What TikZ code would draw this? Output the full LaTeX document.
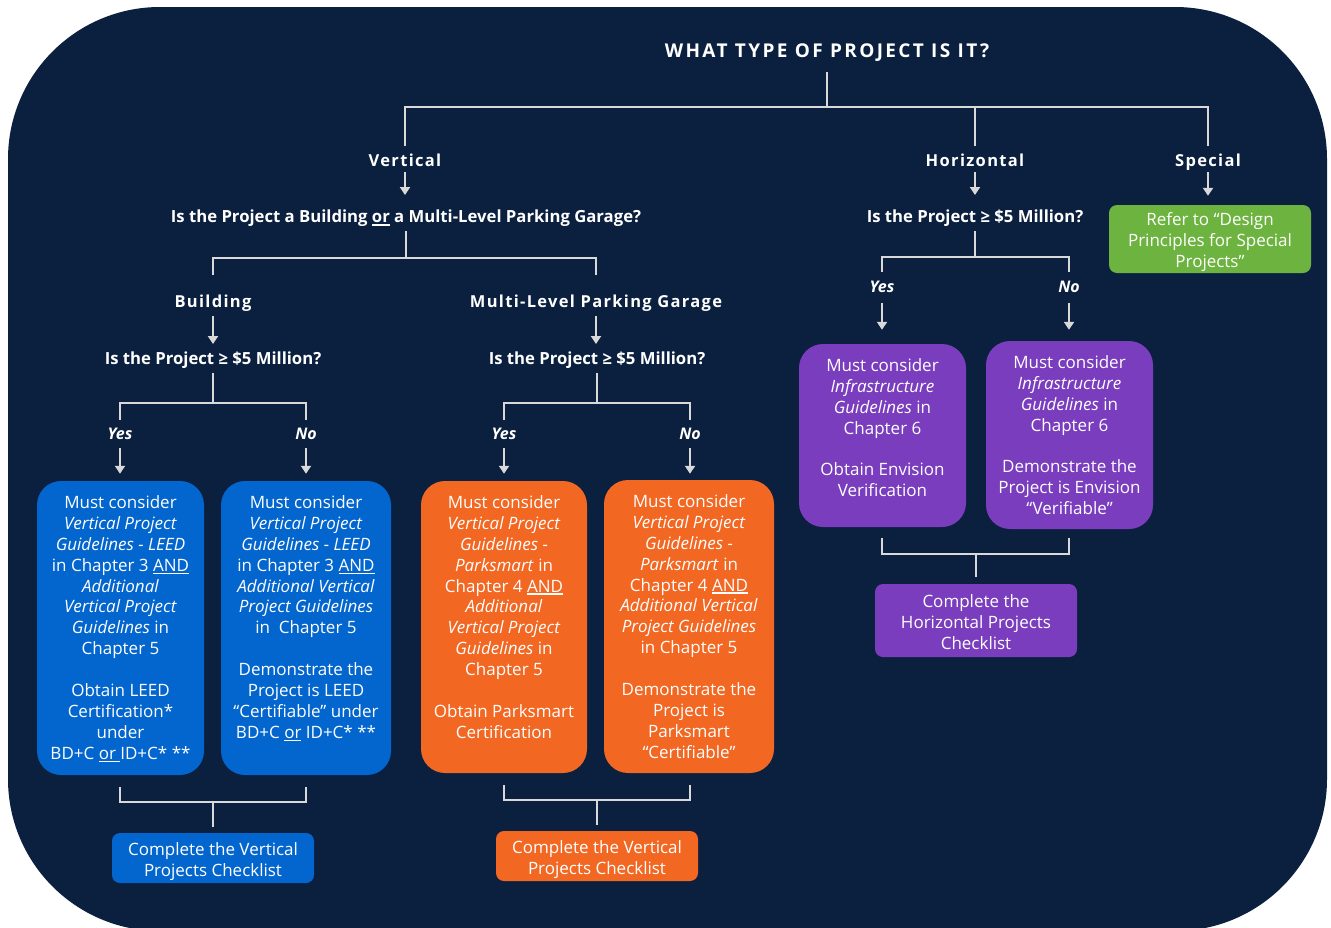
\documentclass[tikz,border=0pt]{standalone}
\usepackage{fontspec}
\setmainfont{Open Sans}
\newfontfamily\trackfont[LetterSpace=8]{Open Sans}
\newfontfamily\titletrack[LetterSpace=12.5]{Open Sans}
\usetikzlibrary{arrows.meta,calc}
\definecolor{navy}{HTML}{0B1F3E}
\definecolor{vblue}{HTML}{0366CE}
\definecolor{vorange}{HTML}{F26722}
\definecolor{vpurple}{HTML}{7A3DBE}
\definecolor{vgreen}{HTML}{6DB33F}
\definecolor{lgray}{HTML}{D9D9D9}
\newcommand\uline[1]{\setbox0\hbox{#1}\rlap{\rule[-2.6pt]{\wd0}{1.2pt}}\box0\relax}
\newcommand\boxtext[4]{\parbox[c][#1][t]{#2}{\centering\vspace*{#3}#4\par}}
\newcommand\cardtext[3]{\boxtext{#1}{#2}{14.5pt}{#3}}
\newcommand\gap{\\[20.9pt]}
\begin{document}
\begin{tikzpicture}[x=1pt,y=-1pt,
  conn/.style={draw=lgray,line width=2.8pt,line join=miter},
  arr/.style={draw=lgray,line width=2.8pt,-{Triangle[width=10pt,length=8pt]}},
  titlefont/.style={text=white,font=\titletrack\bfseries\fontsize{19}{22}\selectfont,inner sep=0pt,text height=15.5pt,text depth=0pt},
  hdr/.style={text=white,font=\trackfont\bfseries\fontsize{16.5}{20}\selectfont,inner sep=0pt,text height=14.5pt,text depth=0pt},
  qn/.style={text=white,font=\bfseries\fontsize{16.7}{20}\selectfont,inner sep=0pt,text height=13.9pt,text depth=0pt},
  yn/.style={text=white,font=\bfseries\itshape\fontsize{16}{18}\selectfont,inner sep=0pt,text height=12.6pt,text depth=0pt},
  card/.style={rounded corners=24pt,inner sep=0pt,text=white,font=\fontsize{17}{20.9}\selectfont},
  check/.style={rounded corners=8pt,inner sep=0pt,text=white,font=\fontsize{17}{21}\selectfont}]
\useasboundingbox (0,0) rectangle (1331,927);
\clip (0,0) rectangle (1331,927);
\fill[white] (0,0) rectangle (1331,927);
\fill[navy,rounded corners=152pt] (8,7) rectangle (1327,931);

% top level
\node[titlefont] (title) at (827,50) {WHAT TYPE OF PROJECT IS IT?};
\coordinate (j0) at (827,107);
\node[hdr] (vert) at (405,159) {Vertical};
\node[hdr] (horz) at (975,159) {Horizontal};
\node[hdr] (spec) at (1208,159) {Special};
\draw[conn] ($(title)+(0,22)$) -- (j0);
\draw[conn] ($(vert)+(0,-13)$) |- (j0) -| ($(spec)+(0,-13)$);
\draw[conn] ($(horz)+(0,-13)$) -- (horz |- j0);

% second level
\node[qn] (q1) at (406,216) {Is the Project a Building \uline{or} a Multi-Level Parking Garage?};
\node[qn] (qh) at (975,216) {Is the Project ≥ \$5 Million?};
\node[check,fill=vgreen] (spc) at (1210,239) {\boxtext{68pt}{202pt}{7.5pt}{Refer to “Design\\Principles for Special\\Projects”}};
\draw[arr] ($(vert)+(0,13)$) -- ($(vert |- q1)+(0,-21)$);
\draw[arr] ($(horz)+(0,13)$) -- ($(horz |- qh)+(0,-21)$);
\draw[arr] ($(spec)+(0,13)$) -- ($(spec |- spc.north)+(0,-9)$);

% vertical branch
\coordinate (b1) at (406,258);
\node[hdr] (bld) at (213,300) {Building};
\node[hdr] (mlp) at (596,300) {Multi-Level Parking Garage};
\draw[conn] ($(q1)+(0,15)$) -- (b1);
\draw[conn] ($(bld)+(0,-25)$) |- (b1) -| ($(mlp)+(0,-25)$);
\node[qn] (qb) at (213,358) {Is the Project ≥ \$5 Million?};
\node[qn] (qp) at (597,358) {Is the Project ≥ \$5 Million?};
\draw[arr] ($(bld)+(0,16)$) -- ($(bld |- qb)+(0,-14)$);
\draw[arr] ($(mlp)+(0,16)$) -- ($(mlp |- qp)+(0,-14)$);

\coordinate (bb) at (213,403);
\coordinate (bp) at (597,403);
\node[yn] (by) at (120,433) {Yes};
\node[yn] (bn) at (306,433) {No};
\node[yn] (py) at (504,433) {Yes};
\node[yn] (pn) at (690,433) {No};
\draw[conn] ($(qb)+(0,15)$) -- (bb);
\draw[conn] ($(by)+(0,-13)$) |- (bb) -| ($(bn)+(0,-13)$);
\draw[conn] ($(qp)+(0,15)$) -- (bp);
\draw[conn] ($(py)+(0,-13)$) |- (bp) -| ($(pn)+(0,-13)$);

\node[card,fill=vblue] (bl1) at (120.5,628) {\cardtext{294pt}{167pt}{Must consider\\
\textit{Vertical Project}\\
\textit{Guidelines - LEED}\\
in Chapter 3 \uline{AND}\\
\textit{Additional}\\
\textit{Vertical Project}\\
\textit{Guidelines} in\\
Chapter 5\gap
Obtain LEED\\
Certification*\\
under\\
BD+C \uline{or }ID+C* **}};
\node[card,fill=vblue] (bl2) at (306,628) {\cardtext{294pt}{170pt}{Must consider\\
\textit{Vertical Project}\\
\textit{Guidelines - LEED}\\
in Chapter 3 \uline{AND}\\
\textit{Additional Vertical}\\
\textit{Project Guidelines}\\
in\ \ Chapter 5\gap
Demonstrate the\\
Project is LEED\\
“Certifiable” under\\
BD+C \uline{or} ID+C* **}};
\node[card,fill=vorange] (or1) at (504,627) {\cardtext{292pt}{166pt}{Must consider\\
\textit{Vertical Project}\\
\textit{Guidelines -}\\
\textit{Parksmart} in\\
Chapter 4 \uline{AND}\\
\textit{Additional}\\
\textit{Vertical Project}\\
\textit{Guidelines} in\\
Chapter 5\gap
Obtain Parksmart\\
Certification}};
\node[card,fill=vorange] (or2) at (689,626.5) {\cardtext{293pt}{170pt}{Must consider\\
\textit{Vertical Project}\\
\textit{Guidelines -}\\
\textit{Parksmart} in\\
Chapter 4 \uline{AND}\\
\textit{Additional Vertical}\\
\textit{Project Guidelines}\\
in Chapter 5\gap
Demonstrate the\\
Project is\\
Parksmart\\
“Certifiable”}};
\draw[arr] ($(by)+(0,15)$) -- ($(by |- bl1.north)+(0,-7)$);
\draw[arr] ($(bn)+(0,15)$) -- ($(bn |- bl2.north)+(0,-7)$);
\draw[arr] ($(py)+(0,15)$) -- ($(py |- or1.north)+(0,-7)$);
\draw[arr] ($(pn)+(0,15)$) -- ($(pn |- or2.north)+(0,-6)$);

\coordinate (cb) at (213,802);
\coordinate (cp) at (597,800);
\node[check,fill=vblue] (ckb) at (213,858) {\boxtext{50pt}{202pt}{9.5pt}{Complete the Vertical\\Projects Checklist}};
\node[check,fill=vorange] (ckp) at (597,856) {\boxtext{50pt}{202pt}{9.5pt}{Complete the Vertical\\Projects Checklist}};
\draw[conn] ($(by |- bl1.south)+(0,12)$) |- (cb) -| ($(bn |- bl2.south)+(0,12)$);
\draw[conn] (cb) -- ($(cb |- ckb.north)+(0,-6)$);
\draw[conn] ($(py |- or1.south)+(0,12)$) |- (cp) -| ($(pn |- or2.south)+(0,12)$);
\draw[conn] (cp) -- ($(cp |- ckp.north)+(0,-6)$);

% horizontal branch
\coordinate (bh) at (975,257);
\node[yn] (hy) at (882,286) {Yes};
\node[yn] (hn) at (1069,286) {No};
\draw[conn] ($(qh)+(0,15)$) -- (bh);
\draw[conn] ($(hy)+(0,-14)$) |- (bh) -| ($(hn)+(0,-14)$);
\node[card,fill=vpurple] (pu1) at (882.5,435.5) {\cardtext{183pt}{167pt}{Must consider\\
\textit{Infrastructure}\\
\textit{Guidelines} in\\
Chapter 6\gap
Obtain Envision\\
Verification}};
\node[card,fill=vpurple] (pu2) at (1069.5,435) {\cardtext{188pt}{167pt}{Must consider\\
\textit{Infrastructure}\\
\textit{Guidelines} in\\
Chapter 6\gap
Demonstrate the\\
Project is Envision\\
“Verifiable”}};
\draw[arr] ($(hy)+(0,17)$) -- ($(hy |- pu1.north)+(0,-14)$);
\draw[arr] ($(hn)+(0,17)$) -- ($(hn |- pu2.north)+(0,-11)$);
\coordinate (cu) at (976,554);
\node[check,fill=vpurple] (ckh) at (976,620.5) {\boxtext{73pt}{202pt}{10.5pt}{Complete the\\Horizontal Projects\\Checklist}};
\draw[conn] ($(hy |- pu1.south)+(0,11)$) |- (cu) -| ($(hn |- pu2.south)+(0,9)$);
\draw[conn] (cu) -- ($(cu |- ckh.north)+(0,-7)$);
\end{tikzpicture}
\end{document}
